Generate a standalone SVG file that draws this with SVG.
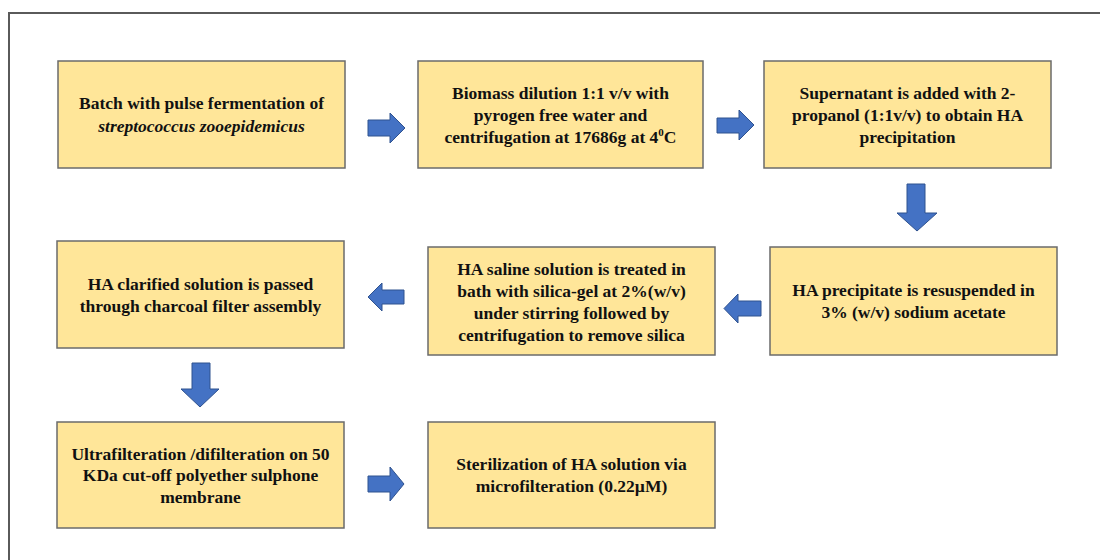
<svg xmlns="http://www.w3.org/2000/svg" width="1100" height="560" viewBox="0 0 1100 560">
<style>
.box{fill:#FFE699;stroke:#6B6B6B;stroke-width:1.5}
.t{font-family:'Liberation Serif','Tinos','Times New Roman','DejaVu Serif',serif;font-size:17.5px;font-weight:bold;fill:#111;text-anchor:middle}
.it{font-style:italic}
.arr{fill:#4472C4;stroke:#2F528F;stroke-width:1}
.frame{fill:none;stroke:#5A5A5A;stroke-width:2}
</style>
<rect x="0" y="0" width="1100" height="560" fill="#FFFFFF"/>
<rect class="frame" x="9" y="13" width="1110" height="580"/>
<g id="n1">
<rect class="box" x="58" y="61" width="287" height="107"/>
<text class="t" x="201.5" y="109" font-family="Liberation Serif, serif">Batch with pulse fermentation of</text>
<text class="t it" x="201.5" y="132">streptococcus zooepidemicus</text>
</g>
<g id="n2">
<rect class="box" x="418" y="61" width="285" height="107"/>
<text class="t" x="560.5" y="98.5">Biomass dilution 1:1 v/v with</text>
<text class="t" x="560.5" y="120.5">pyrogen free water and</text>
<text class="t" x="560.5" y="142.5">centrifugation at 17686g at 4<tspan font-size="11" dy="-7">0</tspan><tspan dy="7">C</tspan></text>
</g>
<g id="n3">
<rect class="box" x="764" y="61" width="287" height="107"/>
<text class="t" x="907.5" y="98.5">Supernatant is added with 2-</text>
<text class="t" x="907.5" y="120.5">propanol (1:1v/v) to obtain HA</text>
<text class="t" x="907.5" y="142.5">precipitation</text>
</g>
<g id="n4">
<rect class="box" x="770" y="247" width="287" height="108"/>
<text class="t" x="913.5" y="296">HA precipitate is resuspended in</text>
<text class="t" x="913.5" y="318">3% (w/v) sodium acetate</text>
</g>
<g id="n5">
<rect class="box" x="428" y="247" width="287" height="108"/>
<text class="t" x="571.5" y="274.5">HA saline solution is treated in</text>
<text class="t" x="571.5" y="296.5">bath with silica-gel at 2%(w/v)</text>
<text class="t" x="571.5" y="318.5">under stirring followed by</text>
<text class="t" x="571.5" y="340.5">centrifugation to remove silica</text>
</g>
<g id="n6">
<rect class="box" x="57" y="241" width="287" height="107"/>
<text class="t" x="200.5" y="289.5">HA clarified solution is passed</text>
<text class="t" x="200.5" y="311.5">through charcoal filter assembly</text>
</g>
<g id="n7">
<rect class="box" x="57" y="422" width="287" height="106"/>
<text class="t" x="200.5" y="459.5">Ultrafilteration /difilteration on 50</text>
<text class="t" x="200.5" y="481">KDa cut-off polyether sulphone</text>
<text class="t" x="200.5" y="502.5">membrane</text>
</g>
<g id="n8">
<rect class="box" x="428" y="422" width="287" height="106"/>
<text class="t" x="571.5" y="470">Sterilization of HA solution via</text>
<text class="t" x="571.5" y="492">microfilteration (0.22µM)</text>
</g>
<g id="connectors">
<polygon class="arr" points="368,120 390,120 390,113 405,128 390,143 390,136 368,136"/>
<polygon class="arr" points="717,118 739,118 739,110 754,125 739,140 739,133 717,133"/>
<polygon class="arr" points="907,184 925,184 925,213 937,213 917,231 897,213 907,213"/>
<polygon class="arr" points="761,301 738,301 738,294 724,308.5 738,323 738,316 761,316"/>
<polygon class="arr" points="404,290 382,290 382,283 368,297 382,311 382,304 404,304"/>
<polygon class="arr" points="192,363 210,363 210,389 219,389 200,407 181,389 192,389"/>
<polygon class="arr" points="368,476 390,476 390,467 404,484 390,501 390,492 368,492"/>
</g>
</svg>
